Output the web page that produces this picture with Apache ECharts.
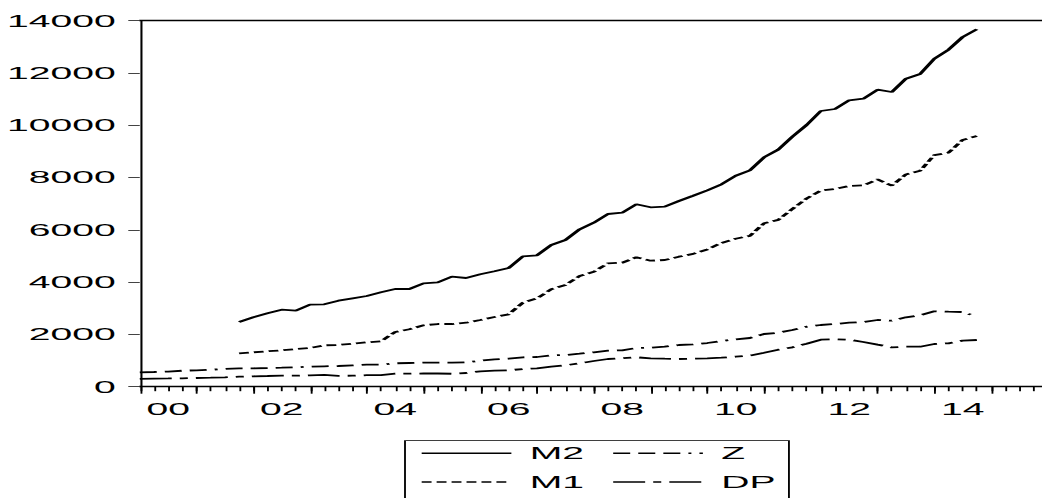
<!DOCTYPE html>
<html><head><meta charset="utf-8">
<script src="https://cdn.jsdelivr.net/npm/echarts@6/dist/echarts.min.js"></script>
<style>
html,body{margin:0;padding:0;width:1042px;height:498px;overflow:hidden;background:#fff;}
#chart{position:absolute;left:0;top:0;width:460px;height:498px;transform:scaleX(2.3);transform-origin:0 0;}
</style></head><body><div id="chart"></div>
<script>
// Horizontal stretch factor of the reference picture
const S = 2.3;

// Categories: quarters 2000Q1 .. 2016Q1
const years = ['2000','2001','2002','2003','2004','2005','2006','2007','2008','2009','2010','2011','2012','2013','2014','2015'];
const quarterNames = ['Q1','Q2','Q3','Q4'];
const categories = [];
years.forEach(y => quarterNames.forEach(q => categories.push(y + q)));
categories.push('2016Q1');

// Tick labels (placed at mid-year of every second year)
const yearTickLabels = ['00','02','04','06','08','10','12','14'];

// Series values (M2 and M1 start at 2001Q4)
const m2Values = [2475,2654,2807,2946,2907,3137,3152,3290,3381,3469,3611,3737,3737,3955,3993,4208,4158,4299,4414,4540,
  4985,5026,5420,5611,6020,6273,6606,6656,6977,6862,6885,7103,7306,7512,7742,8071,8277,8775,9070,9563,
  10010,10546,10622,10955,11016,11360,11272,11781,11961,12546,12890,13376,13671];
const m1Values = [1277,1316,1354,1392,1442,1480,1583,1595,1645,1698,1737,2092,2196,2349,2398,2398,2448,2551,2666,2769,
  3213,3380,3725,3890,4234,4399,4720,4743,4950,4820,4846,4973,5080,5250,5500,5660,5770,6250,6380,6800,
  7200,7500,7560,7680,7700,7930,7690,8120,8260,8860,8950,9440,9590];
const zValues = [550,562,580,612,627,650,677,704,704,715,727,742,765,780,792,818,841,841,895,907,
  918,918,918,933,994,1048,1071,1125,1136,1201,1212,1262,1316,1377,1392,1480,1492,1530,1595,1622,
  1671,1748,1813,1863,2016,2066,2169,2295,2360,2398,2448,2475,2551,2525,2654,2731,2884,2869,2857,2678];
const dpValues = [300,310,315,321,333,344,360,383,398,409,421,421,436,455,415,421,440,440,497,497,
  505,505,495,524,589,612,627,677,704,765,818,895,983,1060,1086,1125,1086,1071,1060,1071,
  1086,1109,1148,1186,1300,1415,1507,1645,1798,1813,1798,1710,1607,1507,1530,1530,1633,1660,1760,1786];

const m2Start = 7; // 2001Q4
const pad = n => new Array(n).fill(null);
const m2 = pad(m2Start).concat(m2Values);
const m1 = pad(m2Start).concat(m1Values);

const font = 'Liberation Sans, Arial, Helvetica, sans-serif';
const LW = 1.8;

const chart = echarts.init(document.getElementById('chart'), null, {renderer: 'svg'});
const gridLeft = 139.6 / S;
const gridWidth = 908.2 / S;

chart.setOption({
  animation: false,
  backgroundColor: '#fff',
  grid: {left: gridLeft, width: gridWidth, top: 20.7, bottom: 498 - 386.7, containLabel: false},
  legend: {
    data: ['M2', 'Z', 'M1', 'DP'],
    orient: 'horizontal',
    left: 405 / S,
    top: 440.7,
    width: 160,
    itemWidth: 39,
    itemHeight: 10,
    itemGap: 11.9,
    padding: [4, 5.8, 40, 6.5],
    borderColor: '#000',
    borderWidth: 0.8,
    itemStyle: {color: 'rgba(0,0,0,0)', borderWidth: 0, opacity: 0},
    lineStyle: {width: 1.5},
    textStyle: {fontFamily: font, fontSize: 17, color: '#000', lineHeight: 13, padding: [0, 0, 0, 3]}
  },
  xAxis: [
    {
      type: 'category', data: categories, boundaryGap: false, position: 'bottom',
      axisLine: {show: true, lineStyle: {color: '#000', width: 1.4}},
      axisTick: {show: true, interval: 0, length: 4.5, lineStyle: {color: '#000', width: 0.8}},
      axisLabel: {
        show: true, margin: 14, fontFamily: font, fontSize: 17, color: '#000',
        interval: (idx) => idx % 8 === 2,
        formatter: (val, idx) => yearTickLabels[(idx - 2) / 8] || ''
      },
      splitLine: {show: false}
    },
    {
      type: 'category', data: categories, boundaryGap: false, position: 'bottom',
      axisLine: {show: false},
      axisTick: {show: true, interval: (idx) => idx % 4 === 0, length: 7, lineStyle: {color: '#000', width: 0.8}},
      axisLabel: {show: false},
      splitLine: {show: false}
    },
    {
      type: 'category', data: categories, boundaryGap: false, position: 'top',
      axisLine: {show: true, onZero: false, lineStyle: {color: '#000', width: 1.4}},
      axisTick: {show: false}, axisLabel: {show: false}, splitLine: {show: false}
    }
  ],
  yAxis: {
    type: 'value', min: 0, max: 14000, interval: 2000,
    axisLine: {show: true, lineStyle: {color: '#000', width: 0.9}},
    axisTick: {show: true, length: 5, lineStyle: {color: '#444', width: 1}},
    axisLabel: {margin: 10.5, fontFamily: font, fontSize: 17, color: '#000', formatter: v => String(v)},
    splitLine: {show: false}
  },
  series: [
    {name: 'M2', type: 'line', data: m2, symbol: 'none', connectNulls: false,
     lineStyle: {color: '#000', width: LW, type: 'solid'}, itemStyle: {color: '#000'}},
    {name: 'Z', type: 'line', data: zValues, symbol: 'none',
     lineStyle: {color: '#000', width: LW, type: [7.4, 3.5, 7.4, 3.5, 7.4, 3.5, 1.3, 3.5]}, itemStyle: {color: '#000'}},
    {name: 'M1', type: 'line', data: m1, symbol: 'none',
     lineStyle: {color: '#000', width: LW, type: [4.3, 2.2]}, itemStyle: {color: '#000'}},
    {name: 'DP', type: 'line', data: dpValues, symbol: 'none',
     lineStyle: {color: '#000', width: LW, type: [13.9, 3.5, 3.5, 3.5]}, itemStyle: {color: '#000'}}
  ]
});
</script></body></html>
